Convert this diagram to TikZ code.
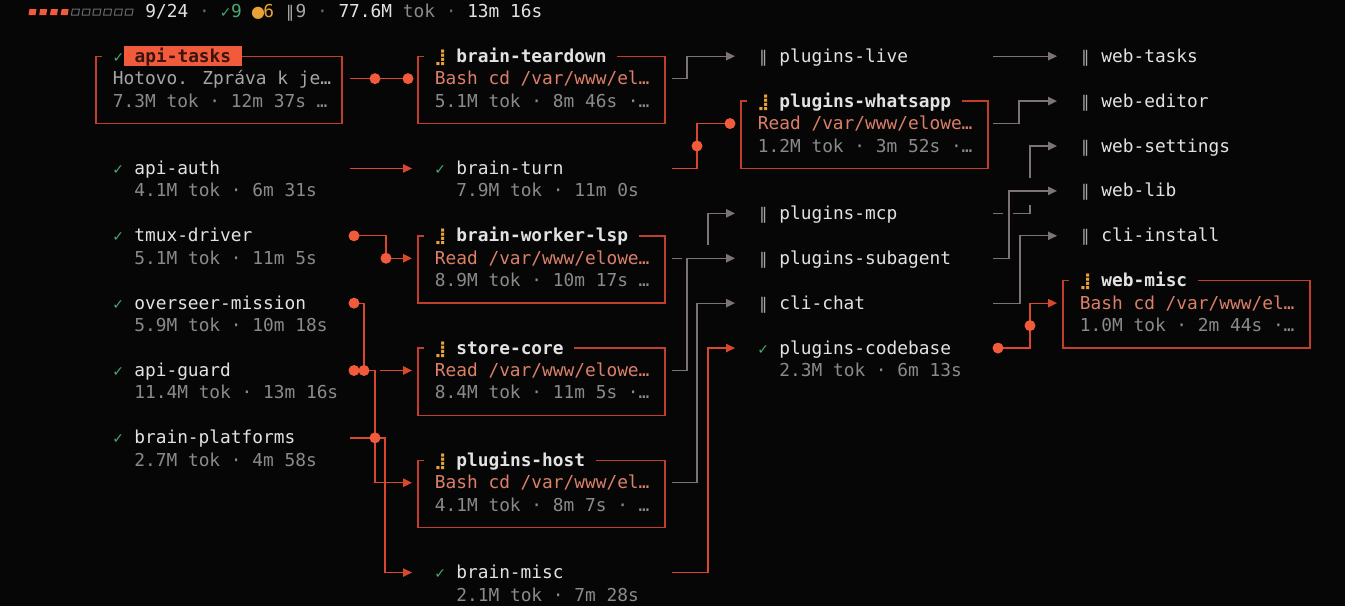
\documentclass[tikz,border=0pt]{standalone}
\usepackage{fontspec}
\usetikzlibrary{arrows.meta}

\newfontfamily\mono{DejaVu Sans Mono}[WordSpace={1,0,0}]
\newfontfamily\symf{DejaVu Sans}

\definecolor{bg}{HTML}{060606}
\definecolor{boxred}{HTML}{C23E2C}
\definecolor{linkred}{HTML}{D9472F}
\definecolor{dotred}{HTML}{F25A3C}
\definecolor{linkgray}{HTML}{7C7474}
\definecolor{namewhite}{HTML}{E2E2E2}
\definecolor{statgray}{HTML}{8A8A8A}
\definecolor{msggray}{HTML}{A6A6A6}
\definecolor{dimgray}{HTML}{6A6A6A}
\definecolor{salmon}{HTML}{DC7F68}
\definecolor{okgreen}{HTML}{47A872}
\definecolor{spinyel}{HTML}{E8A236}
\definecolor{pausegray}{HTML}{A8A8A8}
\definecolor{tabtext}{HTML}{3A140E}

% one terminal cell, one character wide
\newcommand\tcell[1]{\makebox[5.365pt][c]{#1}}
\newcommand\icok{\tcell{\color{okgreen}\symf\fontsize{7}{8}\selectfont ✓}}
\newcommand\icbusy{\tcell{\color{spinyel}\symf\fontsize{8}{9}\selectfont ⣸}}
\newcommand\icidle{\tcell{\color{pausegray}\symf\fontsize{8}{9}\selectfont ‖}}

\begin{document}
\begin{tikzpicture}[x=0.5pt, y=-0.5pt,
  txt/.style={anchor=west, inner sep=0pt, text height=8pt, text depth=2pt,
    font=\mono\fontsize{8.91}{10}\selectfont},
  nm/.style={txt, text=namewhite},
  st/.style={txt, text=statgray},
  cmd/.style={txt, text=salmon},
  ttl/.style={txt, text=namewhite, fill=bg, inner xsep=5.365pt,
    font=\mono\fontsize{8.91}{10}\selectfont\bfseries},
  agentbox/.style={draw=boxred, line width=0.7pt},
  rlink/.style={draw=linkred, line width=0.65pt},
  glink/.style={draw=linkgray, line width=0.65pt},
  arr/.style={-{Triangle[length=4.5pt,width=4.2pt]}},
  jdot/.style={fill=dotred}]

  % Page: 1345 x 606 px, one terminal cell = 10.73 px, one row = 22.45 px
  \useasboundingbox (0,0) rectangle (1345,606);
  \fill[bg] (0,0) rectangle (1345,606);

  % Status line
  \foreach \i in {0,...,3}
    \fill[dotred] ({28.5+\i*10.73},15) -- ++(7,0) -- ++(1,-6) -- ++(-7,0) -- cycle;
  \foreach \i in {4,...,9}
    \draw[dimgray, line width=0.5pt] ({28.5+\i*10.73},15) -- ++(7,0) -- ++(1,-6) -- ++(-7,0) -- cycle;
  \node[txt, text=namewhite] (hdr) at (145,11.3) {9/24 {\color{dimgray}·}
    {\color{okgreen}\tcell{\symf\fontsize{7}{8}\selectfont ✓}9}
    {\color{spinyel}\tcell{\symf\fontsize{8}{9}\selectfont ●}6}
    {\color{pausegray}\tcell{\symf\fontsize{8}{9}\selectfont ‖}9}
    {\color{dimgray}·} 77.6M {\color{statgray}tok} {\color{dimgray}·} 13m 16s};

  % Column 1: finished agents
  \draw[agentbox] (96,56.2) rectangle (342,123.55);
  \node[txt, fill=bg, inner xsep=5.365pt] (at-ok) at (102,56.2) {\icok};
  \node[txt, fill=dotred, text=tabtext, inner xsep=5.365pt,
    font=\mono\fontsize{8.91}{10}\selectfont\bfseries] (at) at (123.5,56.2) {api-tasks};
  \node[txt, text=msggray] (at-2) at (112.5,78.65) {Hotovo. Zpráva k je…};
  \node[st] (at-3) at (112.5,101.1) {7.3M tok · 12m 37s …};

  \foreach \id/\lbl/\stat/\y in {
      auth/api-auth/{4.1M tok · 6m 31s}/168.45,
      tmux/tmux-driver/{5.1M tok · 11m 5s}/235.8,
      ov/overseer-mission/{5.9M tok · 10m 18s}/303.15,
      gd/api-guard/{11.4M tok · 13m 16s}/370.5,
      bp/brain-platforms/{2.7M tok · 4m 58s}/437.85} {
    \node[nm] (\id) at (112.5,\y) {\icok{} \lbl};
    \node[st] (\id-st) at (134,\y+22.45) {\stat};
  }

  % Column 2
  \draw[agentbox] (418,56.2) rectangle (665,123.55);
  \node[ttl] (td) at (423.8,56.2) {\icbusy{} brain-teardown};
  \node[cmd] (td-2) at (434.5,78.65) {Bash cd /var/www/el…};
  \node[st] (td-3) at (434.5,101.1) {5.1M tok · 8m 46s ·…};

  \node[nm] (turn) at (434.5,168.45) {\icok{} brain-turn};
  \node[st] (turn-st) at (456,190.9) {7.9M tok · 11m 0s};

  \draw[agentbox] (418,235.8) rectangle (665,303.15);
  \node[ttl] (lsp) at (423.8,235.8) {\icbusy{} brain-worker-lsp};
  \node[cmd] (lsp-2) at (434.5,258.25) {Read /var/www/elowe…};
  \node[st] (lsp-3) at (434.5,280.7) {8.9M tok · 10m 17s …};

  \draw[agentbox] (418,348.05) rectangle (665,415.4);
  \node[ttl] (sc) at (423.8,348.05) {\icbusy{} store-core};
  \node[cmd] (sc-2) at (434.5,370.5) {Read /var/www/elowe…};
  \node[st] (sc-3) at (434.5,392.95) {8.4M tok · 11m 5s ·…};

  \draw[agentbox] (418,460.3) rectangle (665,527.65);
  \node[ttl] (host) at (423.8,460.3) {\icbusy{} plugins-host};
  \node[cmd] (host-2) at (434.5,482.75) {Bash cd /var/www/el…};
  \node[st] (host-3) at (434.5,505.2) {4.1M tok · 8m 7s · …};

  \node[nm] (misc) at (434.5,572.55) {\icok{} brain-misc};
  \node[st] (misc-st) at (456,595) {2.1M tok · 7m 28s};

  % Column 3
  \node[nm] (live) at (757.5,56.2) {\icidle{} plugins-live};

  \draw[agentbox] (741,101.1) rectangle (988,168.45);
  \node[ttl] (wa) at (746.8,101.1) {\icbusy{} plugins-whatsapp};
  \node[cmd] (wa-2) at (757.5,123.55) {Read /var/www/elowe…};
  \node[st] (wa-3) at (757.5,146) {1.2M tok · 3m 52s ·…};

  \node[nm] (mcp) at (757.5,213.35) {\icidle{} plugins-mcp};
  \node[nm] (sub) at (757.5,258.25) {\icidle{} plugins-subagent};
  \node[nm] (chat) at (757.5,303.15) {\icidle{} cli-chat};
  \node[nm] (cb) at (757.5,348.05) {\icok{} plugins-codebase};
  \node[st] (cb-st) at (779,370.5) {2.3M tok · 6m 13s};

  % Column 4
  \node[nm] (wt) at (1079.5,56.2) {\icidle{} web-tasks};
  \node[nm] (we) at (1079.5,101.1) {\icidle{} web-editor};
  \node[nm] (ws) at (1079.5,146) {\icidle{} web-settings};
  \node[nm] (wl) at (1079.5,190.9) {\icidle{} web-lib};
  \node[nm] (ci) at (1079.5,235.8) {\icidle{} cli-install};

  \draw[agentbox] (1063,280.7) rectangle (1310,348.05);
  \node[ttl] (wm) at (1068.8,280.7) {\icbusy{} web-misc};
  \node[cmd] (wm-2) at (1079.5,303.15) {Bash cd /var/www/el…};
  \node[st] (wm-3) at (1079.5,325.6) {1.0M tok · 2m 44s ·…};

  % Ports
  \coordinate (at-o) at (350,78.65);
  \coordinate (at-m) at (375,78.65);
  \coordinate (td-i) at (408,78.65);
  \coordinate (auth-o) at (350,168.45);
  \coordinate (turn-i) at (412,168.45);
  \coordinate (tmux-o) at (354,235.8);
  \coordinate (lsp-j) at (386,258.25);
  \coordinate (lsp-i) at (412,258.25);
  \coordinate (ov-o) at (354,303.15);
  \coordinate (gd-o) at (354,370.5);
  \coordinate (gd-j) at (364,370.5);
  \coordinate (sc-i) at (412,370.5);
  \coordinate (host-i) at (412,482.75);
  \coordinate (bp-o) at (350,437.85);
  \coordinate (bp-j) at (375,437.85);
  \coordinate (misc-i) at (412,572.55);

  \coordinate (td-o) at (672,78.65);
  \coordinate (turn-o) at (672,168.45);
  \coordinate (lsp-o) at (672,258.25);
  \coordinate (sc-o) at (672,370.5);
  \coordinate (host-o) at (672,482.75);
  \coordinate (misc-o) at (672,572.55);
  \coordinate (live-i) at (735,56.2);
  \coordinate (wa-j) at (697,146);
  \coordinate (wa-i) at (730,123.55);
  \coordinate (mcp-j) at (708,245);
  \coordinate (mcp-i) at (735,213.35);
  \coordinate (sub-i) at (735,258.25);
  \coordinate (chat-i) at (735,303.15);
  \coordinate (cb-i) at (735,348.05);

  \coordinate (live-o) at (993,56.2);
  \coordinate (wa-o) at (993,123.55);
  \coordinate (mcp-o) at (993,213.35);
  \coordinate (sub-o) at (993,258.25);
  \coordinate (chat-o) at (993,303.15);
  \coordinate (cb-o) at (998,348.05);
  \coordinate (wt-i) at (1057,56.2);
  \coordinate (we-i) at (1057,101.1);
  \coordinate (ws-j) at (1030,178);
  \coordinate (ws-i) at (1057,146);
  \coordinate (wl-i) at (1057,190.9);
  \coordinate (ci-i) at (1057,235.8);
  \coordinate (wm-j) at (1030,325.6);
  \coordinate (wm-i) at (1057,303.15);

  % Links column 1 -> 2
  \draw[rlink] (at-o) -- (td-i);
  \draw[rlink,arr] (auth-o) -- (turn-i);
  \draw[rlink] (tmux-o) -| (lsp-j);
  \draw[rlink,arr] (lsp-j) -- (lsp-i);
  \draw[rlink] (ov-o) -| (gd-j);
  \draw[rlink,arr] ([xshift=8pt]gd-j) -- (sc-i);
  \draw[rlink,arr] (gd-j) -- ++(11,0) |- (host-i);
  \draw[rlink] (bp-o) -- (bp-j);
  \draw[rlink,arr] (bp-j) -- ++(10,0) |- (misc-i);

  % Links column 2 -> 3
  \draw[glink,arr] (td-o) -- ++(15,0) |- (live-i);
  \draw[rlink] (turn-o) -| (wa-j) |- (wa-i);
  \draw[glink] (lsp-o) -- ++(10,0);
  \draw[glink,arr] (mcp-j) |- (mcp-i);
  \draw[glink,arr] (sc-o) -- ++(15,0) |- (sub-i);
  \draw[glink,arr] (host-o) -- ++(25,0) |- (chat-i);
  \draw[rlink,arr] (misc-o) -- ++(36,0) |- (cb-i);

  % Links column 3 -> 4
  \draw[glink,arr] (live-o) -- (wt-i);
  \draw[glink,arr] (wa-o) -- ++(26,0) |- (we-i);
  \draw[glink] (mcp-o) -- ++(10,0) ++(10,0) -- ++(17,0) -- ++(0,-8);
  \draw[glink,arr] (ws-j) |- (ws-i);
  \draw[glink,arr] (sub-o) -- ++(16,0) |- (wl-i);
  \draw[glink,arr] (chat-o) -- ++(27,0) |- (ci-i);
  \draw[rlink,arr] (cb-o) -| (wm-j) |- (wm-i);

  % Junction dots
  \foreach \p in {at-m, td-i, tmux-o, lsp-j, ov-o, gd-o, gd-j, bp-j, wa-j, wa-i, cb-o, wm-j}
    \fill[jdot] (\p) circle (2.75pt);
\end{tikzpicture}
\end{document}
